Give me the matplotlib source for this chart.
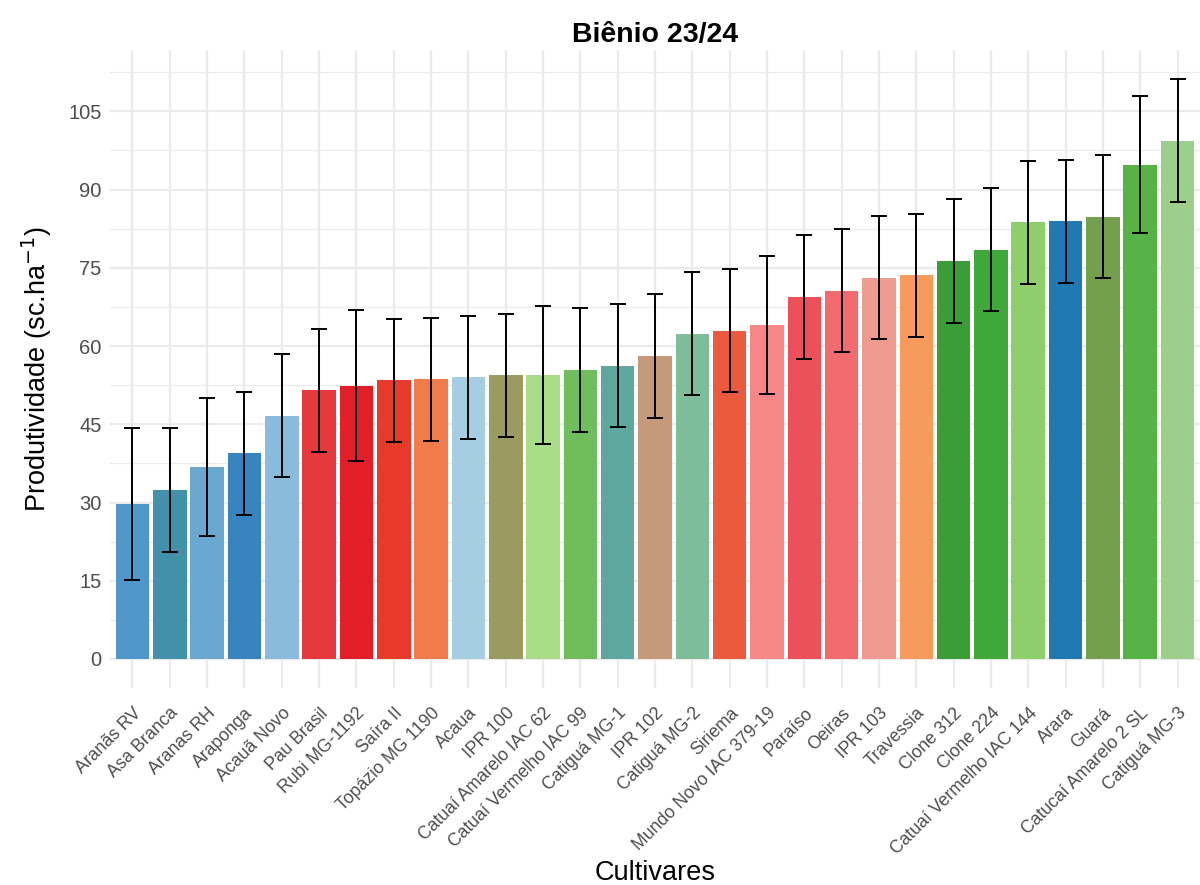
import matplotlib.pyplot as plt
import numpy as np

plt.rcParams['font.family'] = ['Liberation Sans', 'DejaVu Sans']

cultivares = ["Aranãs RV", "Asa Branca", "Aranas RH", "Araponga", "Acauã Novo",
              "Pau Brasil", "Rubi MG-1192", "Saíra II", "Topázio MG 1190", "Acaua",
              "IPR 100", "Catuaí Amarelo IAC 62", "Catuaí Vermelho IAC 99",
              "Catiguá MG-1", "IPR 102", "Catiguá MG-2", "Siriema",
              "Mundo Novo IAC 379-19", "Paraíso", "Oeiras", "IPR 103", "Travessia",
              "Clone 312", "Clone 224", "Catuaí Vermelho IAC 144", "Arara", "Guará",
              "Catucaí Amarelo 2 SL", "Catiguá MG-3"]
media = [29.7, 32.4, 36.8, 39.4, 46.6, 51.5, 52.4, 53.4, 53.6, 54.0,
         54.4, 54.5, 55.4, 56.2, 58.1, 62.4, 62.9, 64.1, 69.4, 70.6,
         73.1, 73.6, 76.3, 78.5, 83.7, 83.9, 84.8, 94.8, 99.4]
erro = [14.6, 11.8, 13.3, 11.8, 11.8, 11.8, 14.5, 11.8, 11.8, 11.8,
        11.8, 13.2, 11.8, 11.8, 11.8, 11.8, 11.8, 13.2, 11.8, 11.8,
        11.8, 11.8, 11.8, 11.8, 11.8, 11.8, 11.8, 13.2, 11.8]
cores = ["#4f97c8", "#4390ab", "#6aa8d2", "#3784bf", "#8bbbdc",
         "#e6393e", "#e21f26", "#e63b2a", "#f07c4c", "#a6cee3",
         "#9b9a5f", "#a8dc86", "#70be5b", "#5fa8a0", "#c49a7a",
         "#7fbc99", "#ec5a3d", "#f58786", "#ec5058", "#ef6b6e",
         "#ee9c8f", "#f69b5b", "#3b9c38", "#3fa83a", "#8fce6d",
         "#2179b4", "#74a04d", "#57b247", "#9bcf8b"]

x = np.arange(len(cultivares))

fig = plt.figure(figsize=(12, 8.85), dpi=100)
ax = fig.add_axes([0.0917, 0.2226, 0.9083, 0.7209])

ax.bar(x, media, width=0.9, color=cores, zorder=2)
ax.errorbar(x, media, yerr=erro, fmt='none', ecolor='black', elinewidth=1.4,
            capsize=5.5, capthick=1.4, zorder=3)

# 5% de folga em cima e embaixo
ymax = max(m + e for m, e in zip(media, erro))
pad = 0.05 * ymax
ax.set_ylim(-pad, ymax + pad)
ax.set_xlim(-0.6, len(cultivares) - 0.4)

ax.set_yticks(np.arange(0, 106, 15))
ax.set_yticks(np.arange(7.5, 115, 15), minor=True)
ax.set_xticks(x)
ax.set_xticklabels(cultivares, rotation=45, ha='right', rotation_mode='anchor',
                   fontsize=12.7, color='#4d4d4d')
ax.tick_params(axis='y', labelsize=14.5, labelcolor='#4d4d4d', pad=6)
ax.tick_params(axis='x', pad=12)
ax.tick_params(which='both', length=0)

ax.grid(True, which='major', color='#ebebeb', linewidth=1.6, zorder=0)
ax.grid(True, which='minor', axis='y', color='#ebebeb', linewidth=0.9, zorder=0)
ax.set_axisbelow(True)
for s in ax.spines.values():
    s.set_visible(False)

ax.set_ylabel("Produtividade (sc.ha$^{-1}$)", fontsize=19.5, labelpad=10)
ax.set_xlabel("Cultivares", fontsize=19.5, labelpad=2)
ax.set_title("Biênio 23/24", fontsize=20.5, fontweight='bold', pad=6)

fig.savefig("out.png", dpi=100)
